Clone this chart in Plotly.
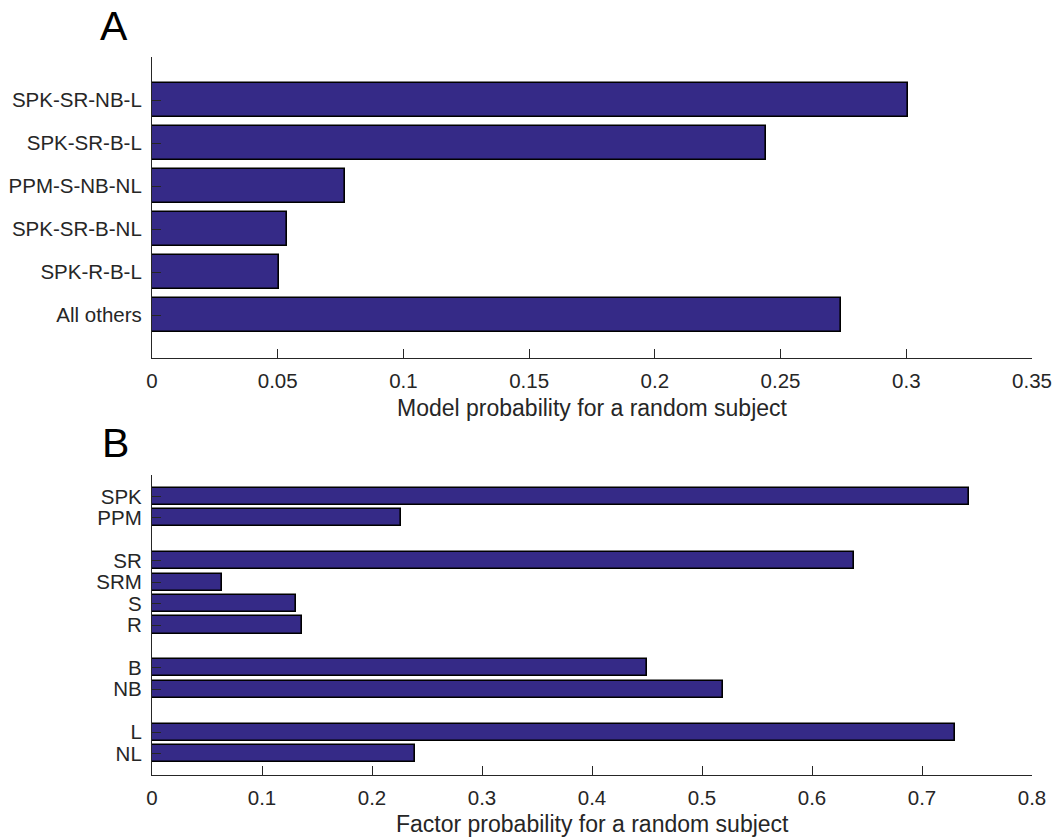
import plotly.graph_objects as go

# ---------------- data ----------------
model_labels = ["SPK-SR-NB-L", "SPK-SR-B-L", "PPM-S-NB-NL", "SPK-SR-B-NL", "SPK-R-B-L", "All others"]
model_probs = [0.3006, 0.2444, 0.0769, 0.0536, 0.0505, 0.2742]

factor_groups = [["SPK", "PPM"], ["SR", "SRM", "S", "R"], ["B", "NB"], ["L", "NL"]]
factor_probs = [[0.7424, 0.2260], [0.6385, 0.0636, 0.1312, 0.1364], [0.4500, 0.5188], [0.7300, 0.2388]]

a_ticks = [0, 0.05, 0.1, 0.15, 0.2, 0.25, 0.3, 0.35]
a_ticktext = ["0", "0.05", "0.1", "0.15", "0.2", "0.25", "0.3", "0.35"]
b_ticks = [0, 0.1, 0.2, 0.3, 0.4, 0.5, 0.6, 0.7, 0.8]
b_ticktext = ["0", "0.1", "0.2", "0.3", "0.4", "0.5", "0.6", "0.7", "0.8"]

# ---------------- style ----------------
W, H = 1054, 839
BAR = "#352a87"
AX = "#262626"
FONT = "Liberation Sans, Arial, Helvetica, sans-serif"
TICK_SIZE = 20.5
TITLE_SIZE = 23

def px_x(p):
    return p / W

def px_y(p):
    return 1 - p / H

# positions for panel A
a_pos = list(range(1, len(model_labels) + 1))

# positions for panel B (groups separated by a blank slot)
b_pos, b_labels, b_vals = [], [], []
p = 1
for g, vals in zip(factor_groups, factor_probs):
    for lab, v in zip(g, vals):
        b_pos.append(p)
        b_labels.append(lab)
        b_vals.append(v)
        p += 1
    p += 1
b_max = b_pos[-1] + 1

fig = go.Figure()
fig.add_trace(go.Bar(x=model_probs, y=a_pos, orientation="h", width=0.8,
                     marker=dict(color=BAR, line=dict(color="black", width=1.6)),
                     xaxis="x", yaxis="y", showlegend=False))
fig.add_trace(go.Bar(x=b_vals, y=b_pos, orientation="h", width=0.8,
                     marker=dict(color=BAR, line=dict(color="black", width=1.6)),
                     xaxis="x2", yaxis="y2", showlegend=False))

xdom = [px_x(152), px_x(1032)]
common_x = dict(showline=True, linecolor=AX, linewidth=1.2, ticks="inside", ticklen=9,
                tickcolor=AX, tickwidth=1.2, showgrid=False, zeroline=False, automargin=False,
                tickfont=dict(family=FONT, size=TICK_SIZE, color=AX), ticklabelstandoff=4,
                domain=xdom)
common_y = dict(showline=True, linecolor=AX, linewidth=1.2, ticks="inside", ticklen=9,
                tickcolor=AX, tickwidth=1.2, showgrid=False, zeroline=False, automargin=False,
                tickfont=dict(family=FONT, size=TICK_SIZE, color=AX), ticklabelstandoff=5)

fig.update_layout(
    width=W, height=H,
    margin=dict(l=0, r=0, t=0, b=0),
    paper_bgcolor="white", plot_bgcolor="white",
    bargap=0,
    xaxis=dict(common_x, range=[0, 0.35], tickvals=a_ticks, ticktext=a_ticktext, anchor="y"),
    yaxis=dict(common_y, range=[len(model_labels) + 1, 0], tickvals=a_pos, ticktext=model_labels,
               domain=[px_y(358), px_y(57)], anchor="x"),
    xaxis2=dict(common_x, range=[0, 0.8], tickvals=b_ticks, ticktext=b_ticktext, anchor="y2"),
    yaxis2=dict(common_y, range=[b_max, 0], tickvals=b_pos, ticktext=b_labels,
                domain=[px_y(775), px_y(475)], anchor="x2"),
)

annots = [
    dict(text="A", x=px_x(98), y=px_y(26), xanchor="left", yanchor="middle",
         font=dict(family=FONT, size=41, color="black")),
    dict(text="B", x=px_x(100), y=px_y(443), xanchor="left", yanchor="middle",
         font=dict(family=FONT, size=41, color="black")),
    dict(text="Model probability for a random subject", x=px_x(592), y=px_y(408),
         xanchor="center", yanchor="middle", font=dict(family=FONT, size=TITLE_SIZE, color=AX)),
    dict(text="Factor probability for a random subject", x=px_x(592), y=px_y(824),
         xanchor="center", yanchor="middle", font=dict(family=FONT, size=TITLE_SIZE, color=AX)),
]
for a in annots:
    fig.add_annotation(xref="paper", yref="paper", showarrow=False, **a)

fig.write_html("out.html")
